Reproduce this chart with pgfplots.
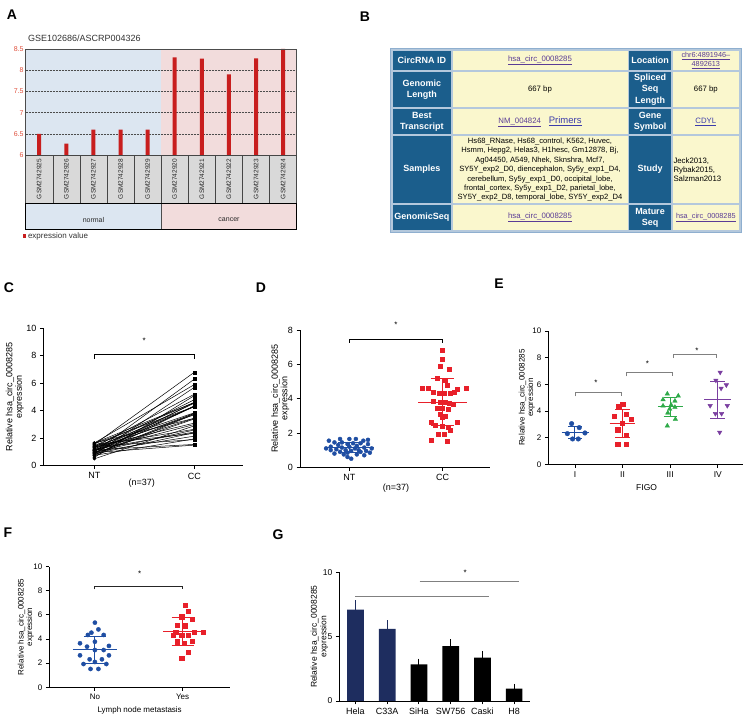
\documentclass[border=0pt]{standalone}
\usepackage{pgfplots}
\pgfplotsset{compat=1.18}
\usepackage{pgfplotstable}
\usepackage{fontspec}
\setmainfont{Liberation Sans}

\definecolor{cblue}{HTML}{1F4EA3}
\definecolor{cred}{HTML}{E8202A}
\definecolor{cgreen}{HTML}{2EAA48}
\definecolor{cpurple}{HTML}{7A3EA0}
\definecolor{cnavy}{HTML}{1E2D5F}
\definecolor{barred}{HTML}{C81E1E}
\definecolor{bgblue}{HTML}{DCE6F1}
\definecolor{bgpink}{HTML}{F2DCDC}
\definecolor{cellgray}{HTML}{D9D9D9}
\definecolor{ticred}{HTML}{E0503C}
\definecolor{hdr}{HTML}{1B5E8C}
\definecolor{celly}{HTML}{FAF7CD}
\definecolor{tborder}{HTML}{B4C8DC}
\definecolor{tbdark}{HTML}{8FAFCF}
\definecolor{link}{HTML}{5A3C96}
\definecolor{linkb}{HTML}{3C3CAA}

\pgfplotstableread{
CC ccx NT ntx
6.8 1.00 1.55 -0.22
6.3 1.00 1.00 0.10
5.9 0.97 1.65 0.00
5.7 1.07 0.85 0.22
5.2 0.94 1.35 -0.02
5.1 1.03 0.60 -0.02
4.8 1.05 1.20 0.00
4.6 0.78 1.45 -0.16
4.6 0.85 0.90 -0.10
4.55 1.16 1.10 0.24
4.6 1.25 1.65 0.07
4.35 0.90 0.75 -0.06
4.3 0.96 1.30 -0.12
4.3 1.02 1.05 -0.14
4.3 1.08 1.60 0.20
4.35 1.13 0.95 0.18
3.85 0.90 1.40 0.04
3.8 0.97 0.80 -0.16
3.8 1.03 1.15 -0.08
3.7 1.11 1.25 0.08
3.75 1.07 0.70 0.16
3.45 0.94 1.65 -0.10
3.45 1.00 1.10 -0.25
3.4 1.06 0.90 0.12
3.1 0.97 1.35 0.20
2.9 1.00 0.50 0.02
2.65 0.88 1.45 -0.08
2.6 1.16 1.00 -0.04
2.45 0.92 1.20 -0.20
2.4 1.00 0.85 -0.02
2.35 1.06 1.55 0.15
2.15 1.08 1.00 -0.20
1.9 0.95 1.40 0.12
1.95 1.02 0.75 0.08
1.55 0.88 1.15 0.16
1.5 1.05 0.95 0.02
3.0 1.03 1.10 0.06
}\pairs

\pgfplotsset{gp/.style={
  scale only axis, anchor=south west, axis lines*=left,
  axis line style={line width=0.9pt, black},
  every tick/.style={black, line width=0.9pt},
  tick align=outside, major tick length=3.5pt,
  ymin=0, clip=false, unbounded coords=jump,
  /pgf/number format/assume math mode=true,
  ylabel={Relative hsa\_circ\_0008285\\expression},
}}

\tikzset{
  hd/.style={font=\bfseries\fontsize{9}{11.5}\selectfont, text=white, align=center, inner sep=0pt},
  dt/.style={font=\fontsize{7.8}{9.4}\selectfont, text=black, align=center, inner sep=0pt},
}
\newcommand{\lk}[1]{{\color{link}\underline{#1}}}
\newcommand{\tcell}[7]{%
  \fill[#5] ({#1+0.8},{#2+0.8}) rectangle ({#3-0.8},{#4-0.8});
  \node[#6] at ({(#1+#3)/2},{(#2+#4)/2}) {#7};}

\begin{document}
\begin{tikzpicture}[x=1pt,y=1pt]
\fill[white] (0,0) rectangle (753,720);

% panel letters
\begin{scope}[every node/.style={font=\bfseries\fontsize{14}{14}\selectfont}]
\node at (12,705) {A};
\node at (365,703) {B};
\node at (9,432) {C};
\node at (261,432) {D};
\node at (499,436) {E};
\node at (8,187) {F};
\node at (278,185) {G};
\end{scope}

% ================= Panel A =================
\node[anchor=base west, font=\fontsize{9}{10}\selectfont, text=black!80] at (24.5,678) {GSE102686/ASCRP004326};
\begin{axis}[scale only axis, anchor=south west, at={(25.7pt,565pt)}, width=271pt, height=106pt,
  xmin=-0.5, xmax=9.5, ymin=6, ymax=8.5, axis on top,
  axis line style={draw=gray!60!black, line width=0.6pt},
  major tick length=0pt,
  ytick={6,6.5,7,7.5,8,8.5}, yticklabels={6,6.5,7,7.5,8,8.5},
  yticklabel style={font=\fontsize{7}{8}\selectfont, text=ticred, inner sep=2pt},
  xtick={0,...,9},
  xticklabels={GSM2742925,GSM2742926,GSM2742927,GSM2742928,GSM2742929,GSM2742920,GSM2742921,GSM2742922,GSM2742923,GSM2742924},
  xticklabel style={rotate=90, anchor=east, draw=gray!55!black, fill=cellgray, minimum width=48pt, minimum height=27.1pt, inner sep=0pt, outer sep=0pt, font=\fontsize{6.5}{7}\selectfont, text=black!85},
  legend style={at={(-0.012,-0.764)}, anchor=west, draw=none, fill=none, font=\fontsize{8}{9}\selectfont, text=black!80, inner sep=0pt},
  legend image code/.code={\fill[barred] (0pt,-1.7pt) rectangle (3.4pt,1.7pt);},
]
\fill[bgblue] (axis cs:-0.5,6) rectangle (axis cs:4.5,8.5);
\fill[bgpink] (axis cs:4.5,6) rectangle (axis cs:9.5,8.5);
\pgfplotsinvokeforeach{6.5,7,7.5,8}{\draw[densely dotted, gray!60!black, line width=0.5pt] (axis cs:-0.5,#1) -- (axis cs:9.5,#1);}
\addplot[ybar, bar width=4pt, bar shift=0pt, fill=barred, draw=none] coordinates {
(0,6.5) (1,6.27) (2,6.6) (3,6.6) (4,6.6) (5,8.3) (6,8.27) (7,7.9) (8,8.28) (9,8.5)};
\addlegendentry{expression value}
\end{axis}
\fill[bgblue] (25.7,491) rectangle (161.2,516.5);
\fill[bgpink] (161.2,491) rectangle (296.7,516.5);
\draw[gray!60!black, line width=0.6pt] (161.2,491) -- (161.2,516.5);
\draw[black, line width=0.9pt] (25.7,491) rectangle (296.7,516.5);
\node[font=\fontsize{7}{8}\selectfont, text=black!85] at (93.5,500) {normal};
\node[font=\fontsize{7}{8}\selectfont, text=black!85] at (229,500) {cancer};

% ================= Panel B (table) =================
\fill[tborder] (390.5,487.5) rectangle (741.5,671.5);
\draw[tbdark, line width=0.5pt] (390.5,487.5) rectangle (741.5,671.5);
% row 0
\tcell{392}{649}{451.7}{670}{hdr}{hd}{CircRNA ID}
\tcell{451.7}{649}{628.3}{670}{celly}{dt}{\lk{hsa\_circ\_0008285}}
\tcell{628.3}{649}{671.7}{670}{hdr}{hd}{Location}
\tcell{671.7}{649}{740}{670}{celly}{dt,font=\fontsize{7.3}{9}\selectfont}{\lk{chr6:4891946–}\\\lk{4892613}}
% row 1
\tcell{392}{611.7}{451.7}{649}{hdr}{hd}{Genomic\\Length}
\tcell{451.7}{611.7}{628.3}{649}{celly}{dt}{667 bp}
\tcell{628.3}{611.7}{671.7}{649}{hdr}{hd}{Spliced\\Seq\\Length}
\tcell{671.7}{611.7}{740}{649}{celly}{dt}{667 bp}
% row 2
\tcell{392}{585}{451.7}{611.7}{hdr}{hd}{Best\\Transcript}
\tcell{451.7}{585}{628.3}{611.7}{celly}{dt}{\lk{NM\_004824}\quad{\fontsize{9.5}{10}\selectfont\color{linkb}\underline{Primers}}}
\tcell{628.3}{585}{671.7}{611.7}{hdr}{hd}{Gene\\Symbol}
\tcell{671.7}{585}{740}{611.7}{celly}{dt}{{\color{linkb}\underline{CDYL}}}
% row 3
\tcell{392}{515.7}{451.7}{585}{hdr}{hd}{Samples}
\tcell{451.7}{515.7}{628.3}{585}{celly}{dt,font=\fontsize{7.6}{9.4}\selectfont}{Hs68\_RNase, Hs68\_control, K562, Huvec,\\Hsmm, Hepg2, Helas3, H1hesc, Gm12878, Bj,\\Ag04450, A549, Nhek, Sknshra, Mcf7,\\SY5Y\_exp2\_D0, diencephalon, Sy5y\_exp1\_D4,\\cerebellum, Sy5y\_exp1\_D0, occipital\_lobe,\\frontal\_cortex, Sy5y\_exp1\_D2, parietal\_lobe,\\SY5Y\_exp2\_D8, temporal\_lobe, SY5Y\_exp2\_D4}
\tcell{628.3}{515.7}{671.7}{585}{hdr}{hd}{Study}
\fill[celly] (672.5,516.5) rectangle (739.2,584.2);
\node[dt, align=left, anchor=west] at (673.3,550.3) {Jeck2013,\\Rybak2015,\\Salzman2013};
% row 4
\tcell{392}{489}{451.7}{515.7}{hdr}{hd}{GenomicSeq}
\tcell{451.7}{489}{628.3}{515.7}{celly}{dt}{\lk{hsa\_circ\_0008285}}
\tcell{628.3}{489}{671.7}{515.7}{hdr}{hd}{Mature\\Seq}
\tcell{671.7}{489}{740}{515.7}{celly}{dt,font=\fontsize{7.3}{9}\selectfont}{\lk{hsa\_circ\_0008285}}

% ================= Panel C =================
\begin{axis}[gp, at={(43.3pt,254.3pt)}, width=200pt, height=137.4pt,
  xmin=-0.51, xmax=1.49, ymax=10, ytick={0,2,4,6,8,10}, xtick={0,1}, xticklabels={NT,CC},
  tick label style={font=\fontsize{9}{10}\selectfont},
  ylabel style={at={(axis description cs:-0.0965,0.5)}, anchor=south, inner sep=0pt, align=center, font=\fontsize{9}{9.5}\selectfont},
  xlabel={(n=37)}, xlabel style={at={(axis description cs:0.492,-0.124)}, anchor=center, font=\fontsize{9}{10}\selectfont}]
\addplot[no markers, black, line width=0.5pt, quiver={u=1, v=\thisrow{CC}-\thisrow{NT}}] table[x expr=0, y=NT] {\pairs};
\addplot[only marks, mark=*, mark size=1.4pt, black] table[x expr=0, y=NT] {\pairs};
\addplot[only marks, mark=square*, mark size=1.5pt, black] table[x expr=1, y=CC] {\pairs};
\addplot[black, line width=1pt] coordinates {(0,7.8) (0,8.06) (1,8.06) (1,7.8)};
\node[font=\fontsize{8}{8}\selectfont] at (axis cs:0.5,9.1) {*};
\end{axis}

% ================= Panel D =================
\begin{axis}[gp, at={(300pt,252.7pt)}, width=190pt, height=137.3pt,
  xmin=-0.53, xmax=1.51, ymax=8, ytick={0,2,4,6,8}, xtick={0,1}, xticklabels={NT,CC},
  tick label style={font=\fontsize{9}{10}\selectfont},
  ylabel style={at={(axis description cs:-0.056,0.5)}, anchor=south, inner sep=0pt, align=center, font=\fontsize{9}{9.5}\selectfont},
  xlabel={(n=37)}, xlabel style={at={(axis description cs:0.505,-0.151)}, anchor=center, font=\fontsize{9}{10}\selectfont}]
\addplot[only marks, mark=*, mark size=2pt, cblue] table[x=ntx, y=NT] {\pairs};
\addplot[only marks, mark=square*, mark size=2pt, cred] table[x=ccx, y=CC] {\pairs};
\addplot[cblue, line width=1pt] coordinates {(-0.26,1.14) (0.26,1.14) (nan,nan) (-0.12,0.84) (0.12,0.84) (nan,nan) (-0.12,1.44) (0.12,1.44) (nan,nan) (0,0.84) (0,1.44)};
\addplot[cred, line width=1pt] coordinates {(0.74,3.8) (1.26,3.8) (nan,nan) (0.875,2.45) (1.125,2.45) (nan,nan) (0.875,5.15) (1.125,5.15) (nan,nan) (1,2.45) (1,5.15)};
\addplot[black, line width=1pt] coordinates {(0,7.26) (0,7.45) (1,7.45) (1,7.26)};
\node[font=\fontsize{8}{8}\selectfont] at (axis cs:0.5,8.3) {*};
\end{axis}

% ================= Panel E =================
\begin{axis}[gp, at={(548.3pt,255.7pt)}, width=194.7pt, height=133.3pt,
  xmin=-0.56, xmax=3.53, ymax=10, ytick={0,2,4,6,8,10}, xtick={0,1,2,3}, xticklabels={I,II,III,IV},
  tick label style={font=\fontsize{8}{9}\selectfont},
  xticklabel style={font=\fontsize{8.5}{9}\selectfont},
  ylabel style={at={(axis description cs:-0.068,0.5)}, anchor=south, inner sep=0pt, align=center, font=\fontsize{8}{8.5}\selectfont},
  xlabel={FIGO}, xlabel style={at={(axis description cs:0.505,-0.178)}, anchor=center, font=\fontsize{8.5}{9}\selectfont}]
\addplot[only marks, mark=*, mark size=2.3pt, cblue] coordinates {(-0.07,3.05) (0.09,2.75) (-0.16,2.3) (0.21,2.35) (-0.05,1.9) (0.07,1.9)};
\addplot[only marks, mark=square*, mark size=2.2pt, cred] coordinates {(1,4.5) (0.92,4.33) (1.08,3.75) (0.82,3.6) (1.18,3.4) (0.99,3.1) (0.9,2.6) (1.08,2.2) (0.9,1.5) (1.08,1.5)};
\addplot[only marks, mark=triangle*, mark size=2.6pt, cgreen] coordinates {(1.94,5.28) (2.17,5.13) (1.85,4.85) (2.1,4.75) (2.02,4.45) (1.85,4.38) (2.1,4.28) (1.99,4.15) (1.95,3.85) (2.11,3.38) (1.94,2.88)};
\addplot[only marks, mark=triangle*, mark options={rotate=180}, mark size=2.6pt, cpurple] coordinates {(3.05,6.9) (2.96,6.3) (3.18,5.95) (3.07,5.7) (2.84,4.4) (3.2,4.4) (2.95,3.8) (3.08,3.8) (3.04,2.4)};
\addplot[cblue, line width=1pt] coordinates {(-0.28,2.35) (0.3,2.35) (nan,nan) (-0.14,1.95) (0.14,1.95) (nan,nan) (-0.14,2.8) (0.14,2.8) (nan,nan) (0,1.95) (0,2.8)};
\addplot[cred, line width=1pt] coordinates {(0.73,3.05) (1.27,3.05) (nan,nan) (0.85,2.0) (1.15,2.0) (nan,nan) (0.85,4.1) (1.15,4.1) (nan,nan) (1,2.0) (1,4.1)};
\addplot[cgreen, line width=1pt] coordinates {(1.74,4.3) (2.26,4.3) (nan,nan) (1.86,3.58) (2.14,3.58) (nan,nan) (1.86,5.03) (2.14,5.03) (nan,nan) (2,3.58) (2,5.03)};
\addplot[cpurple, line width=1pt] coordinates {(2.72,4.85) (3.28,4.85) (nan,nan) (2.84,3.45) (3.16,3.45) (nan,nan) (2.84,6.2) (3.16,6.2) (nan,nan) (3,3.45) (3,6.2)};
\addplot[gray, line width=0.8pt] coordinates {(0,5.1) (0,5.38) (0.965,5.38) (0.965,5.1)};
\addplot[gray, line width=0.8pt] coordinates {(1.086,6.6) (1.086,6.87) (2.05,6.87) (2.05,6.6)};
\addplot[gray, line width=0.8pt] coordinates {(2.06,7.97) (2.06,8.25) (2.98,8.25) (2.98,7.97)};
\node[font=\fontsize{8}{8}\selectfont] at (axis cs:0.44,6.1) {*};
\node[font=\fontsize{8}{8}\selectfont] at (axis cs:1.52,7.55) {*};
\node[font=\fontsize{8}{8}\selectfont] at (axis cs:2.56,8.55) {*};
\end{axis}

% ================= Panel F =================
\begin{axis}[gp, at={(49.3pt,32.7pt)}, width=180.7pt, height=120.6pt,
  xmin=-0.52, xmax=1.54, ymax=10, ytick={0,2,4,6,8,10}, xtick={0,1}, xticklabels={No,Yes},
  tick label style={font=\fontsize{8}{9}\selectfont},
  ylabel style={at={(axis description cs:-0.085,0.5)}, anchor=south, inner sep=0pt, align=center, font=\fontsize{8}{8.5}\selectfont},
  xlabel={Lymph node metastasis}, xlabel style={at={(axis description cs:0.5,-0.194)}, anchor=center, font=\fontsize{8}{9}\selectfont}]
\addplot[only marks, mark=*, mark size=2.1pt, cblue] coordinates {(0,5.36) (0.04,4.8) (-0.04,4.53) (-0.08,4.34) (0.1,4.34) (0,3.78) (-0.17,3.65) (-0.09,3.37) (0.16,3.43) (0,3.09) (0.1,3.09) (-0.17,2.65) (-0.06,2.32) (0.08,2.32) (0.16,2.65) (-0.13,1.93) (0,2.1) (0.13,1.93) (-0.05,1.52) (0.04,1.52)};
\addplot[only marks, mark=square*, mark size=2.1pt, cred] coordinates {(1.03,6.8) (1.06,6.3) (0.99,5.86) (1.11,5.66) (0.94,5.17) (1.03,5.1) (0.92,4.6) (1.13,4.6) (1.23,4.6) (0.89,4.34) (0.99,4.34) (1.06,4.34) (0.94,3.78) (1.02,3.65) (1.11,3.8) (1.06,2.9) (0.99,2.38)};
\addplot[cblue, line width=1pt] coordinates {(-0.25,3.14) (0.25,3.14) (nan,nan) (-0.125,2.0) (0.125,2.0) (nan,nan) (-0.125,4.25) (0.125,4.25) (nan,nan) (0,2.0) (0,4.25)};
\addplot[cred, line width=1pt] coordinates {(0.78,4.6) (1.27,4.6) (nan,nan) (0.875,3.45) (1.125,3.45) (nan,nan) (0.875,5.75) (1.125,5.75) (nan,nan) (1,3.45) (1,5.75)};
\addplot[black!85, line width=1pt] coordinates {(0,8.12) (0,8.34) (1,8.34) (1,8.12)};
\node[font=\fontsize{8}{8}\selectfont] at (axis cs:0.51,9.4) {*};
\end{axis}

% ================= Panel G =================
\begin{axis}[gp, at={(339.3pt,19pt)}, width=190.7pt, height=128.7pt,
  xmin=-0.51, xmax=5.5, ymax=10, ytick={0,5,10}, xtick={0,...,5}, xticklabels={Hela,C33A,SiHa,SW756,Caski,H8},
  tick label style={font=\fontsize{8.5}{9}\selectfont},
  xticklabel style={font=\fontsize{9}{10}\selectfont},
  ylabel style={at={(axis description cs:-0.058,0.5)}, anchor=south, inner sep=0pt, align=center, font=\fontsize{8.5}{9.3}\selectfont}]
\addplot[ybar, bar width=16.7pt, bar shift=0pt, fill=cnavy, draw=none,
  error bars/.cd, y dir=plus, y explicit, error bar style={cnavy, line width=1pt}, error mark options={cnavy, line width=1pt, mark size=4pt}]
  coordinates {(0,7.1) +- (0,0.42) (1,5.61) +- (0,0.34)};
\addplot[ybar, bar width=16.7pt, bar shift=0pt, fill=black, draw=none,
  error bars/.cd, y dir=plus, y explicit, error bar style={black, line width=1pt}, error mark options={black, line width=1pt, mark size=4pt}]
  coordinates {(2,2.85) +- (0,0.13) (3,4.26) +- (0,0.23) (4,3.37) +- (0,0.21) (5,0.97) +- (0,0.05)};
\addplot[gray, line width=0.8pt] coordinates {(0,8.12) (4.2,8.12)};
\addplot[gray, line width=0.8pt] coordinates {(2.02,9.3) (5.14,9.3)};
\node[font=\fontsize{8}{8}\selectfont] at (axis cs:3.46,10.0) {*};
\end{axis}

\end{tikzpicture}
\end{document}
